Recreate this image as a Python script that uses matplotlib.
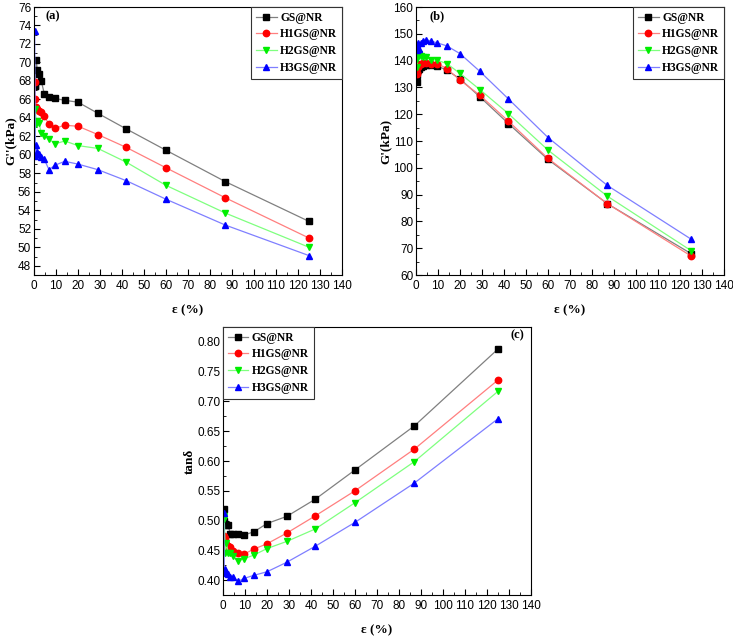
import numpy as np
import matplotlib
matplotlib.use("Agg")
import matplotlib.pyplot as plt
from matplotlib.ticker import MultipleLocator, FormatStrFormatter

# strain values (%)
strain = [0.3, 0.6, 1.0, 1.5, 2.3, 3.3, 4.7, 6.8, 9.7, 14, 20, 29, 42, 60, 87, 125]
names = ["GS@NR", "H1GS@NR", "H2GS@NR", "H3GS@NR"]

# (a) loss modulus G'' (kPa)
g2_gs = [67.4, 67.5, 70.3, 69.2, 68.7, 68.0, 66.6, 66.3, 66.1, 65.9, 65.7, 64.5, 62.8, 60.5, 57.1, 52.8]
g2_h1 = [67.9, 66.0, 65.2, 65.0, 64.8, 64.6, 64.2, 63.3, 62.9, 63.2, 63.1, 62.2, 60.8, 58.6, 55.35, 51.0]
g2_h2 = [59.9, 65.0, 63.3, 63.7, 63.4, 62.4, 62.0, 61.7, 61.2, 61.5, 61.0, 60.7, 59.2, 56.7, 53.7, 50.0]
g2_h3 = [73.4, 59.9, 61.1, 60.3, 60.1, 59.8, 59.5, 58.4, 58.9, 59.3, 59.0, 58.4, 57.2, 55.2, 52.4, 49.1]

# (b) storage modulus G' (kPa)
g1_gs = [132.0, 134.5, 136.4, 137.0, 137.6, 138.0, 138.2, 138.2, 138.0, 136.4, 133.2, 126.5, 116.5, 103.1, 86.6, 68.0]
g1_h1 = [134.9, 135.5, 137.5, 138.5, 138.8, 139.2, 139.2, 138.9, 138.9, 137.0, 132.7, 127.1, 117.4, 103.5, 86.6, 67.1]
g1_h2 = [137.6, 140.5, 142.3, 142.6, 141.8, 141.5, 141.3, 140.4, 140.1, 138.9, 135.2, 129.2, 120.2, 106.6, 89.4, 69.1]
g1_h3 = [143.9, 145.7, 146.7, 144.5, 146.7, 147.3, 147.8, 147.3, 146.6, 145.5, 142.6, 136.0, 125.7, 111.3, 93.4, 73.4]

# (c) tan delta
tan_gs = [0.500, 0.520, 0.495, 0.493, 0.493, 0.478, 0.478, 0.478, 0.476, 0.481, 0.495, 0.507, 0.536, 0.585, 0.659, 0.788]
tan_h1 = [0.455, 0.474, 0.470, 0.461, 0.458, 0.455, 0.449, 0.446, 0.444, 0.452, 0.461, 0.479, 0.508, 0.550, 0.620, 0.736]
tan_h2 = [0.508, 0.502, 0.445, 0.463, 0.446, 0.445, 0.440, 0.432, 0.436, 0.442, 0.453, 0.465, 0.486, 0.530, 0.599, 0.717]
tan_h3 = [0.513, 0.413, 0.418, 0.412, 0.410, 0.405, 0.405, 0.398, 0.403, 0.408, 0.414, 0.430, 0.457, 0.497, 0.563, 0.671]

markers = ["s", "o", "v", "^"]
mcolors = ["black", "red", "#00ee00", "blue"]
lcolors = ["#808080", "#ff7f7f", "#7fff7f", "#7f7fff"]

plt.rcParams["font.family"] = "Liberation Sans"
serif = {"family": "Liberation Serif", "weight": "bold"}

W, H = 733, 637
fig = plt.figure(figsize=(W / 100, H / 100), dpi=100)

def make_ax(x0, y0):
    return fig.add_axes([x0 / W, 1 - (y0 + 268) / H, 308 / W, 268 / H])

def draw(ax, series, ylim, ymaj, ymin, ylabel, tag, tagpos, legloc):
    for ys, nm, mk, mc, lc in zip(series, names, markers, mcolors, lcolors):
        ax.plot(strain, ys, color=lc, lw=0.9, marker=mk, ms=4.6,
                mfc=mc, mec=mc, label=nm)
    ax.set_xlim(0, 140)
    ax.set_ylim(*ylim)
    ax.xaxis.set_major_locator(MultipleLocator(10))
    ax.xaxis.set_minor_locator(MultipleLocator(5))
    ax.yaxis.set_major_locator(MultipleLocator(ymaj))
    ax.yaxis.set_minor_locator(MultipleLocator(ymin))
    ax.tick_params(which="both", direction="in", labelsize=8.5, top=False, right=False)
    ax.tick_params(axis="y", pad=2)
    ax.tick_params(which="major", length=4)
    ax.tick_params(which="minor", length=2)
    ax.set_xlabel("ε (%)", fontdict=serif, fontsize=9.5, labelpad=9)
    ax.set_ylabel(ylabel, fontdict=serif, fontsize=9.5, labelpad=1)
    ax.text(tagpos[0], tagpos[1], tag, transform=ax.transAxes, fontdict=serif,
            fontsize=9, ha="center", va="center")
    leg = ax.legend(loc=legloc, prop={"family": "Liberation Serif", "weight": "bold", "size": 8.3},
                    frameon=True, fancybox=False, borderaxespad=0, handlelength=1.8,
                    labelspacing=0.42, borderpad=0.4, handletextpad=0.3)
    leg.get_frame().set_edgecolor("#333333")
    leg.get_frame().set_linewidth(0.8)
    leg.get_frame().set_alpha(1)

ax_a = make_ax(34, 7)
draw(ax_a, [g2_gs, g2_h1, g2_h2, g2_h3], (47, 76), 2, 1, "G''(kPa)", "(a)",
     (0.06, 0.965), "upper right")

ax_b = make_ax(416, 7)
draw(ax_b, [g1_gs, g1_h1, g1_h2, g1_h3], (60, 160), 10, 5, "G'(kPa)", "(b)",
     (0.07, 0.965), "upper right")

ax_c = make_ax(223, 327)
draw(ax_c, [tan_gs, tan_h1, tan_h2, tan_h3], (0.375, 0.825), 0.05, 0.025, "tanδ", "(c)",
     (0.955, 0.97), "upper left")
ax_c.yaxis.set_major_formatter(FormatStrFormatter("%.2f"))

fig.savefig("out.png", dpi=100)
